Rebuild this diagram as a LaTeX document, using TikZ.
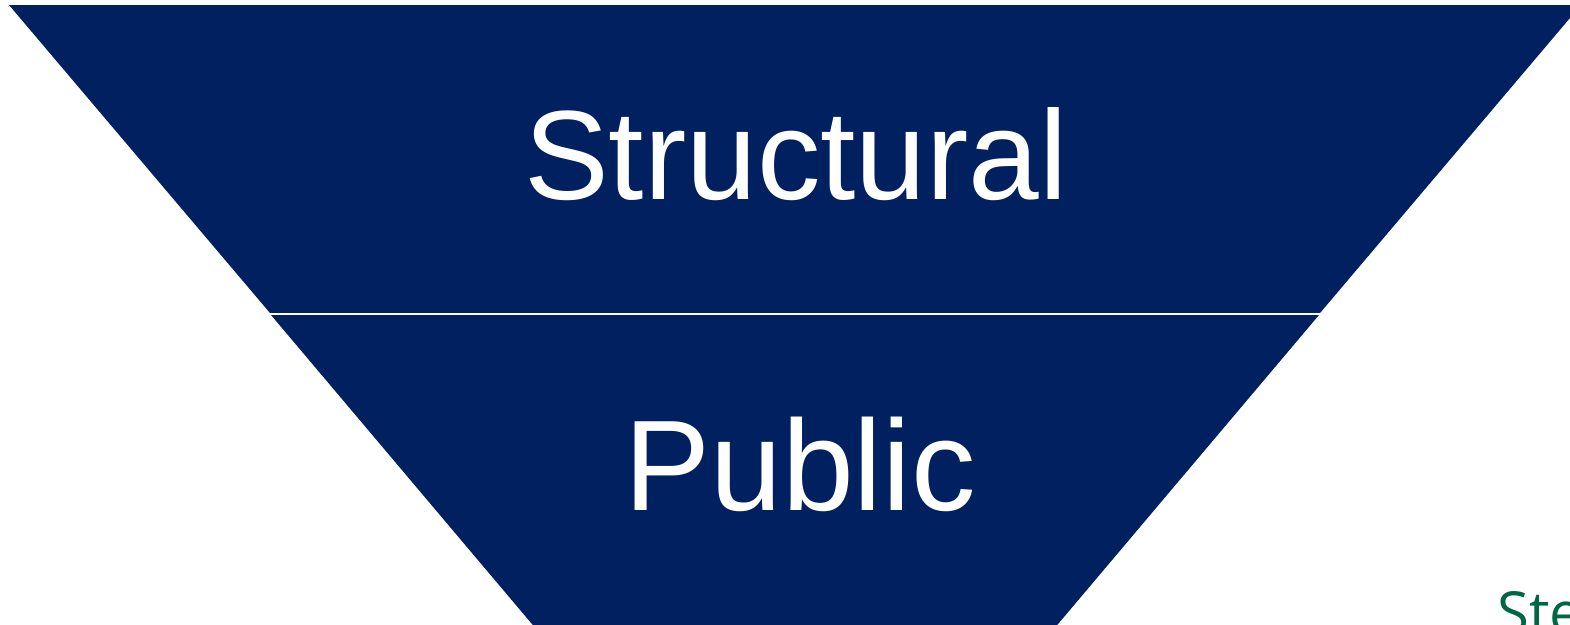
\documentclass[tikz,border=0pt]{standalone}
\usepackage{fontspec}
\setmainfont{Liberation Sans}
\newfontfamily\labelfont{Open Sans}
\definecolor{funnelblue}{RGB}{0,32,96}
\definecolor{notegreen}{RGB}{0,102,68}
\begin{document}
\begin{tikzpicture}[x=1pt,y=-1pt,
  band/.style={fill=funnelblue,draw=none},
  bandtext/.style={text=white,inner sep=0pt,anchor=base},
  divider/.style={draw=white,line width=1.6pt}]
  \useasboundingbox (0,0) rectangle (1570,624);
  \clip (0,0) rectangle (1570,624);
  % upper band of the funnel
  \path[band] (9,5) -- (1581,5) -- (1320,313) -- (270,313) -- cycle;
  % lower band of the funnel
  \path[band] (271,315) -- (1319,315) -- (1053,630) -- (537,630) -- cycle;
  \coordinate (dl) at (269,314);
  \coordinate (dr) at (1322,314);
  \draw[divider] (dl) -- (dr);
  \node[bandtext,font=\fontsize{127}{150}\selectfont] (structural) at (796,199) {Structural};
  \node[bandtext,font=\fontsize{129}{150}\selectfont] (public) at (800,510) {Public};
  \node[anchor=base west,inner sep=0pt,text=notegreen,font=\labelfont\fontsize{58}{64}\selectfont] (note) at (1497,633) {Ste};
\end{tikzpicture}
\end{document}
